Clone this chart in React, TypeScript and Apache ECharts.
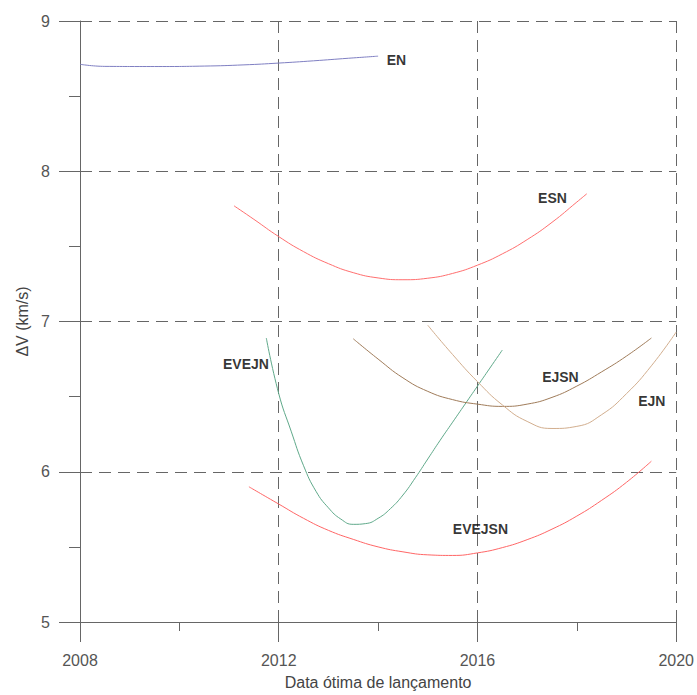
import React, { useEffect, useRef } from "react";
import * as echarts from "echarts";

// Launch-date (year) / ΔV (km/s) readings for each trajectory family
const EN_YEARS = [2008, 2008.5, 2009.5, 2010.5, 2011.3, 2012, 2012.7, 2013.4, 2014];
const EN_DV = [8.712, 8.698, 8.697, 8.7, 8.708, 8.72, 8.735, 8.752, 8.766];

const ESN_YEARS = [2011.1, 2011.5, 2012, 2012.5, 2013, 2013.5, 2014, 2014.5, 2015, 2015.5, 2016, 2016.5, 2017, 2017.5, 2018, 2018.2];
const ESN_DV = [7.77, 7.68, 7.565, 7.465, 7.385, 7.325, 7.29, 7.278, 7.288, 7.32, 7.375, 7.45, 7.545, 7.66, 7.795, 7.85];

const EVEJSN_YEARS = [2011.4, 2012, 2012.5, 2013, 2013.5, 2014, 2014.5, 2015, 2015.5, 2016, 2016.5, 2017, 2017.5, 2018, 2018.5, 2019, 2019.5];
const EVEJSN_DV = [5.9, 5.785, 5.69, 5.61, 5.55, 5.5, 5.467, 5.447, 5.443, 5.46, 5.495, 5.548, 5.618, 5.705, 5.81, 5.93, 6.07];

const EVEJN_YEARS = [2011.75, 2012, 2012.25, 2012.5, 2012.75, 2013, 2013.25, 2013.5, 2013.75, 2014, 2014.25, 2014.5, 2014.75, 2015, 2015.25, 2015.5, 2015.75, 2016, 2016.25, 2016.5];
const EVEJN_DV = [6.89, 6.52, 6.27, 6.04, 5.87, 5.76, 5.685, 5.65, 5.655, 5.69, 5.755, 5.845, 5.96, 6.085, 6.21, 6.33, 6.45, 6.57, 6.69, 6.81];

const EJSN_YEARS = [2013.5, 2014, 2014.5, 2015, 2015.5, 2016, 2016.5, 2017, 2017.5, 2018, 2018.5, 2019, 2019.5];
const EJSN_DV = [6.885, 6.75, 6.625, 6.535, 6.48, 6.45, 6.435, 6.45, 6.495, 6.57, 6.665, 6.77, 6.89];

const EJN_YEARS = [2015, 2015.5, 2016, 2016.5, 2017, 2017.5, 2018, 2018.5, 2019, 2019.5, 2020];
const EJN_DV = [6.975, 6.78, 6.6, 6.445, 6.335, 6.288, 6.302, 6.38, 6.52, 6.705, 6.93];

const LABEL_NAMES = ["EN", "ESN", "EJSN", "EJN", "EVEJN", "EVEJSN"];
const LABEL_YEARS = [2014.37, 2017.51, 2017.67, 2019.51, 2011.34, 2016.06];
const LABEL_DV = [8.74, 7.82, 6.63, 6.47, 6.72, 5.62];

const X_MIN = 2008;
const X_MAX = 2020;
const Y_MIN = 5;
const Y_MAX = 9;

const zip = (xs: number[], ys: number[]) => xs.map((x, i) => [x, ys[i]]);

export default function App() {
  const ref = useRef<HTMLDivElement>(null);

  useEffect(() => {
    if (!ref.current) return;
    const chart = echarts.init(ref.current, null, { renderer: "svg" });
    const font = "'Liberation Sans', Arial, sans-serif";
    const axisColor = "#666";
    const gridLine = { show: true, lineStyle: { color: "#666", type: [12, 7] as any, width: 1 } };

    const mkLine = (name: string, xs: number[], ys: number[], color: string) => ({
      name,
      type: "line",
      data: zip(xs, ys),
      smooth: true,
      showSymbol: false,
      symbol: "none",
      lineStyle: { color, width: 1 },
      z: 5,
    });

    chart.setOption({
      animation: false,
      textStyle: { fontFamily: font },
      grid: { left: 80, right: 18, top: 21, bottom: 68 },
      xAxis: {
        type: "value",
        min: X_MIN,
        max: X_MAX,
        interval: 4,
        name: "Data ótima de lançamento",
        nameLocation: "middle",
        nameGap: 52,
        nameTextStyle: { fontSize: 16, color: "#444", fontFamily: font },
        axisLine: { show: true, lineStyle: { color: axisColor } },
        axisTick: { show: true, length: 20, lineStyle: { color: axisColor } },
        minorTick: { show: true, splitNumber: 2, length: 9, lineStyle: { color: axisColor } },
        axisLabel: { fontSize: 16, color: "#555", margin: 30, fontFamily: font, formatter: (v: number) => String(v) },
        splitLine: gridLine,
      },
      yAxis: {
        type: "value",
        min: Y_MIN,
        max: Y_MAX,
        interval: 1,
        name: "ΔV (km/s)",
        nameLocation: "middle",
        nameGap: 47,
        nameTextStyle: { fontSize: 16, color: "#444", fontFamily: font },
        axisLine: { show: true, lineStyle: { color: axisColor } },
        axisTick: { show: true, length: 21, lineStyle: { color: axisColor } },
        minorTick: { show: true, splitNumber: 2, length: 11, lineStyle: { color: axisColor } },
        axisLabel: { fontSize: 16, color: "#555", margin: 30, fontFamily: font },
        splitLine: gridLine,
      },
      series: [
        mkLine("EN", EN_YEARS, EN_DV, "#7f7fc2"),
        mkLine("ESN", ESN_YEARS, ESN_DV, "#ff6f6f"),
        mkLine("EVEJSN", EVEJSN_YEARS, EVEJSN_DV, "#ff6666"),
        mkLine("EVEJN", EVEJN_YEARS, EVEJN_DV, "#5fa98a"),
        mkLine("EJSN", EJSN_YEARS, EJSN_DV, "#a07c5a"),
        mkLine("EJN", EJN_YEARS, EJN_DV, "#d2ae8e"),
        {
          name: "labels",
          type: "scatter",
          symbolSize: 0,
          z: 6,
          data: LABEL_NAMES.map((n, i) => ({ name: n, value: [LABEL_YEARS[i], LABEL_DV[i]] })),
          label: {
            show: true,
            position: "inside",
            formatter: (p: any) => p.name,
            fontSize: 14,
            fontWeight: "bold",
            color: "#000",
            fontFamily: font,
          },
          silent: true,
        },
      ],
    });

    return () => chart.dispose();
  }, []);

  return <div ref={ref} style={{ width: 697, height: 695, position: "absolute", left: 0, top: 0 }} />;
}
